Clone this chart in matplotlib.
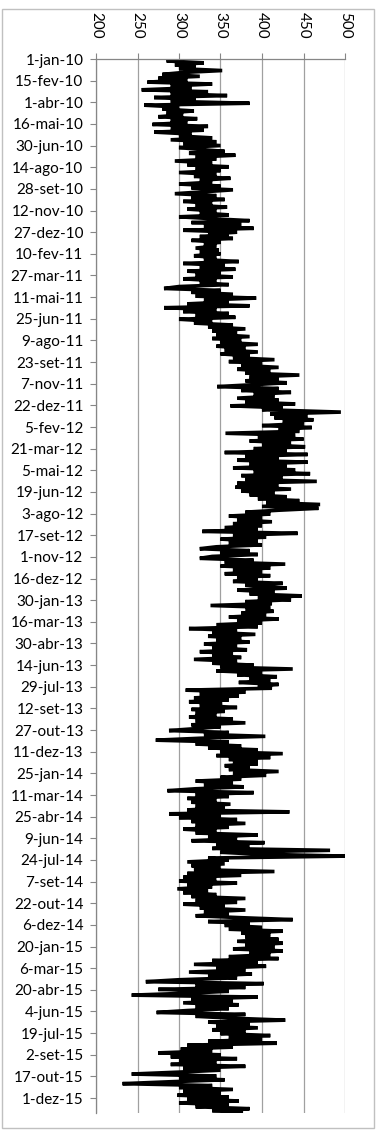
import numpy as np
import pandas as pd
import matplotlib
matplotlib.use('Agg')
import matplotlib.pyplot as plt
from matplotlib.patches import Rectangle

# dados (um valor a cada 4 dias, a partir de 1 de janeiro de cada ano)
meses = ['jan', 'fev', 'mar', 'abr', 'mai', 'jun', 'jul', 'ago', 'set', 'out', 'nov', 'dez']

valores_2010 = [300, 285, 330, 295, 320, 300, 352, 305, 280, 325, 275, 310, 262, 340, 290, 315, 255, 335, 290, 358,
                270, 320, 290, 385, 258, 300, 280, 318, 285, 305, 275, 322, 290, 310, 268, 335, 290, 330, 270, 315,
                300, 340, 290, 345, 305, 350, 300, 325, 355, 312, 368, 320, 345, 295, 340, 310, 360, 320, 350, 300,
                345, 318, 362, 325, 340, 300, 350, 315, 365, 330, 295, 345, 315, 355, 305, 340, 320, 358, 310, 345,
                325, 360, 300, 340, 385, 315, 375, 330, 390, 305, 370, 335]
valores_2011 = [360, 325, 365, 315, 350, 330, 345, 320, 348, 325, 350, 318, 345, 330, 372, 305, 355, 325, 368, 310,
                350, 320, 365, 305, 345, 325, 360, 300, 282, 350, 315, 365, 320, 393, 330, 360, 310, 385, 282, 345,
                305, 360, 320, 368, 300, 340, 318, 365, 335, 380, 340, 370, 345, 385, 340, 375, 350, 395, 345, 380,
                355, 395, 350, 385, 365, 415, 360, 400, 375, 420, 370, 410, 380, 445, 385, 420, 380, 430, 390, 346,
                420, 375, 435, 390, 415, 370, 420, 380, 440, 362, 425, 400]
valores_2012 = [420, 495, 410, 455, 415, 462, 425, 450, 400, 460, 420, 445, 356, 440, 395, 450, 385, 435, 400, 452,
                390, 430, 355, 455, 380, 420, 370, 455, 385, 430, 365, 440, 390, 458, 375, 425, 380, 466, 370, 420,
                368, 435, 375, 415, 385, 430, 395, 445, 405, 470, 400, 468, 420, 380, 410, 360, 400, 370, 412, 365,
                400, 355, 395, 328, 443, 365, 405, 350, 395, 360, 400, 345, 325, 385, 350, 395, 340, 325, 390, 355,
                428, 350, 410, 365, 400, 355, 410, 370, 395, 365, 425, 380]
valores_2013 = [395, 430, 370, 415, 385, 448, 395, 435, 380, 412, 338, 410, 380, 414, 375, 405, 360, 420, 370, 400,
                345, 395, 312, 370, 340, 392, 335, 375, 345, 385, 330, 370, 340, 382, 325, 365, 340, 375, 318, 370,
                340, 390, 350, 437, 345, 400, 370, 418, 385, 410, 372, 420, 395, 412, 308, 380, 325, 372, 318, 360,
                312, 352, 325, 370, 315, 355, 320, 345, 312, 365, 320, 380, 315, 350, 320, 288, 360, 330, 404, 325,
                272, 360, 320, 375, 335, 395, 350, 425, 345, 410, 360, 395]
valores_2014 = [365, 395, 355, 385, 360, 420, 365, 405, 350, 375, 320, 365, 330, 378, 320, 286, 390, 320, 360, 310,
                345, 315, 362, 320, 355, 310, 433, 288, 350, 300, 370, 315, 380, 320, 360, 305, 345, 320, 395, 335,
                370, 315, 403, 345, 385, 340, 482, 350, 395, 502, 335, 360, 310, 355, 315, 350, 318, 415, 310, 375,
                305, 345, 300, 370, 310, 340, 298, 335, 305, 345, 315, 380, 320, 370, 305, 355, 325, 380, 330, 360,
                320, 375, 437, 335, 385, 355, 400, 360, 425, 375, 410, 380]
valores_2015 = [385, 420, 370, 425, 380, 415, 365, 425, 385, 410, 360, 420, 340, 395, 318, 405, 345, 380, 312, 388,
                335, 370, 300, 260, 402, 320, 380, 275, 360, 310, 243, 395, 315, 365, 305, 372, 320, 360, 310, 273,
                380, 320, 365, 428, 335, 385, 345, 395, 340, 380, 350, 410, 360, 400, 335, 418, 310, 365, 302, 340,
                275, 350, 290, 370, 300, 345, 290, 380, 305, 350, 300, 243, 345, 300, 355, 290, 232, 340, 300, 365,
                305, 350, 298, 360, 310, 372, 300, 360, 320, 385, 340, 375]

anos = [2010, 2011, 2012, 2013, 2014, 2015]
series = [valores_2010, valores_2011, valores_2012, valores_2013, valores_2014, valores_2015]

datas = []
valores = []
for ano, vals in zip(anos, series):
    datas.append(pd.date_range(f'{ano}-01-01', periods=len(vals), freq='4D'))
    valores.extend(vals)
datas = datas[0].append(datas[1:])

plt.rcParams['font.family'] = ['Lato', 'DejaVu Sans']

fig = plt.figure(figsize=(3.79, 11.34), dpi=100)
ax = fig.add_axes([96 / 379, 1 - 1113 / 1134, (345 - 96) / 379, (1113 - 59) / 1134])

# valores no eixo horizontal, datas no vertical
ax.plot(valores, datas, color='black', lw=2.6, solid_joinstyle='miter')

# eixo de valores no topo
ax.set_xlim(200, 500)
ax.set_xticks(np.arange(200, 501, 50))
ax.xaxis.tick_top()
ax.tick_params(axis='x', which='major', length=4, width=0.8, color='#868686', pad=11,
               labelsize=11, labelrotation=-90)
ax.grid(axis='x', color='#a0a0a0', lw=0.9)
ax.set_axisbelow(True)

# eixo de datas (invertido, de cima para baixo)
ax.set_ylim(pd.Timestamp('2016-01-01'), pd.Timestamp('2010-01-01'))
marcas = pd.date_range('2010-01-01', '2015-12-31', freq='45D')
ax.set_yticks(marcas)
ax.set_yticklabels([f'{d.day}-{meses[d.month - 1]}-{d.year % 100:02d}' for d in marcas])
ax.tick_params(axis='y', length=4, width=0.8, color='#868686', pad=5, labelsize=11)

for lado in ['right', 'bottom']:
    ax.spines[lado].set_visible(False)
for lado in ['left', 'top']:
    ax.spines[lado].set_color('#868686')
    ax.spines[lado].set_linewidth(0.9)

# moldura do gráfico
fig.patches.append(Rectangle((1.5 / 379, 1 - 1128 / 1134), 372.5 / 379, 1119 / 1134,
                             transform=fig.transFigure, fill=False, edgecolor='#c0c0c0', lw=1.0))

fig.savefig('out.png', dpi=100)
